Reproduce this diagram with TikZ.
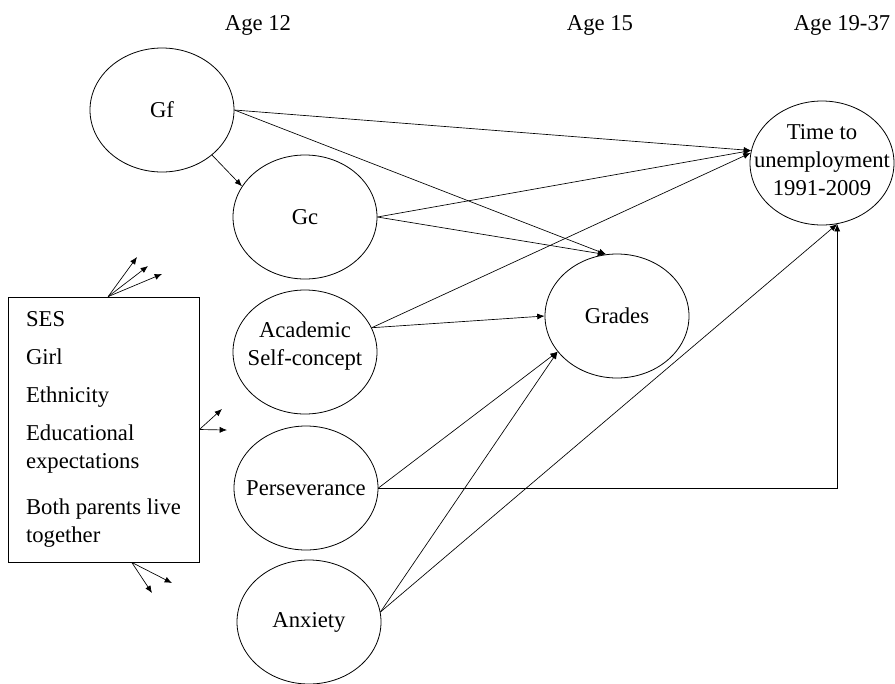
\documentclass[tikz,border=0pt]{standalone}
\usepackage{fontspec}
\setmainfont{Liberation Serif}
\usetikzlibrary{shapes.geometric, arrows.meta}

\begin{document}
\begin{tikzpicture}[
  x=0.75pt, y=-0.75pt,
  font=\fontsize{17}{21}\selectfont,
  latent/.style={ellipse, draw, line width=0.6pt, minimum width=108pt, minimum height=93pt, inner sep=0pt},
  covbox/.style={draw, line width=0.6pt, align=left, minimum width=143.25pt, minimum height=198.75pt},
  link/.style={-{Latex[length=5.5pt,width=4.5pt]}, line width=0.5pt}
]
\useasboundingbox (0,0) rectangle (895,683);

% time points
\node (age12) at (258,25) {Age 12};
\node (age15) at (600,25) {Age 15};
\node (age19) at (842,25) {Age 19-37};

% latent variables
\node[latent] (gf) at (162,110) {Gf};
\node[latent] (gc) at (305,217) {Gc};
\node[latent, label={[align=center, yshift=4.5pt]center:Academic\\Self-concept}] (asc) at (305,352) {};
\node[latent, label=center:Perseverance] (pers) at (306,488) {};
\node[latent] (anx) at (309,622) {Anxiety};
\node[latent] (grades) at (617,316) {Grades};
\node[latent, label={[align=center, yshift=2.25pt]center:Time to\\unemployment\\1991-2009}] (time) at (822,163) {};

% covariates
\node[covbox] (cov) at (103.5,429.5) {SES\\[7.5pt] Girl\\[7.5pt] Ethnicity\\[7.5pt] Educational\\ expectations\\[14pt] Both parents live\\ together};

\coordinate (up1) at (137,257);
\coordinate (up2) at (148,266);
\coordinate (up3) at (162,274);
\coordinate (rt1) at (222,409);
\coordinate (rt2) at (227,430);
\coordinate (dn1) at (152,593);
\coordinate (dn2) at (172,583);
\foreach \e in {up1,up2,up3} \draw[link] (cov.88) -- (\e);
\foreach \e in {rt1,rt2} \draw[link] (cov.east) -- (\e);
\foreach \e in {dn1,dn2} \draw[link] (cov.-78) -- (\e);

% paths
\draw[link] (gf.east) -- (time.170);
\draw[link] (gf.east) -- (grades.100);
\draw[link] (gf.-42) -- (gc.154);
\draw[link] (gc.east) -- (time.170);
\draw[link] (gc.east) -- (grades.101);
\draw[link] (asc.20) -- (time.172);
\draw[link] (asc.20) -- (grades.west);
\draw[link] (pers.east) -- (grades.211);
\draw[link] (pers.east) -| (time.-76);
\draw[link] (anx.8) -- (grades.211);
\draw[link] (anx.8) -- (time.-76);
\end{tikzpicture}
\end{document}
